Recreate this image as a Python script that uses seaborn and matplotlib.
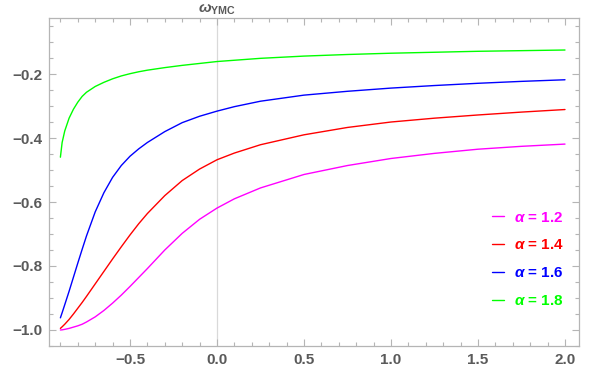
import numpy as np
import pandas as pd
import matplotlib
matplotlib.use("Agg")
import matplotlib.pyplot as plt
from matplotlib.ticker import MultipleLocator, FuncFormatter
from matplotlib.lines import Line2D
import seaborn as sns

# values
x_vals = [-0.9, -0.89, -0.875, -0.85, -0.825, -0.8, -0.775, -0.75, -0.7, -0.65,
          -0.6, -0.55, -0.5, -0.45, -0.4, -0.3, -0.2, -0.1, 0.0, 0.1,
          0.25, 0.5, 0.75, 1.0, 1.25, 1.5, 1.75, 2.0]

w_a12 = [-1.0, -0.9995, -0.998, -0.995, -0.991, -0.987, -0.982, -0.975, -0.959, -0.939,
         -0.916, -0.891, -0.864, -0.836, -0.808, -0.750, -0.698, -0.654, -0.619, -0.590,
         -0.556, -0.514, -0.486, -0.464, -0.448, -0.435, -0.426, -0.419]
w_a14 = [-0.995, -0.990, -0.982, -0.967, -0.950, -0.932, -0.914, -0.895, -0.856, -0.817,
         -0.778, -0.740, -0.703, -0.668, -0.636, -0.580, -0.533, -0.497, -0.468, -0.447,
         -0.421, -0.390, -0.367, -0.350, -0.338, -0.328, -0.319, -0.311]
w_a16 = [-0.962, -0.946, -0.921, -0.879, -0.835, -0.791, -0.748, -0.706, -0.631, -0.571,
         -0.523, -0.486, -0.457, -0.434, -0.414, -0.380, -0.352, -0.332, -0.316, -0.302,
         -0.285, -0.266, -0.254, -0.244, -0.236, -0.229, -0.223, -0.218]
w_a18 = [-0.460, -0.414, -0.378, -0.338, -0.310, -0.288, -0.270, -0.257, -0.239, -0.226,
         -0.215, -0.206, -0.199, -0.193, -0.188, -0.180, -0.173, -0.167, -0.161, -0.157,
         -0.151, -0.144, -0.139, -0.135, -0.132, -0.129, -0.127, -0.125]

labels = ["1.2", "1.4", "1.6", "1.8"]
colors = ["#FF00FF", "#FF0000", "#0000FF", "#00FF00"]

frames = []
for lab, vals in zip(labels, [w_a12, w_a14, w_a16, w_a18]):
    frames.append(pd.DataFrame({"x": x_vals, "w": vals, "alpha": lab}))
data = pd.concat(frames, ignore_index=True)

sns.set_style("ticks")
plt.rcParams["font.family"] = ["Liberation Sans", "DejaVu Sans"]
plt.rcParams["font.weight"] = "bold"
plt.rcParams["mathtext.fontset"] = "custom"
plt.rcParams["mathtext.it"] = "Liberation Sans:italic:bold"
plt.rcParams["mathtext.rm"] = "Liberation Sans:bold"
plt.rcParams["mathtext.bf"] = "Liberation Sans:bold"

fig = plt.figure(figsize=(5.91, 3.73), dpi=100)
ax = fig.add_axes([0.0829, 0.0724, 0.8968, 0.8793])

ax.axvline(0, color="#d9d9d9", lw=0.9, zorder=0)

sns.lineplot(data=data, x="x", y="w", hue="alpha", palette=dict(zip(labels, colors)),
             lw=1.0, legend=False, ax=ax, sort=False)

ax.set_xlim(-0.9655, 2.0805)
ax.set_ylim(-1.05, -0.025)
ax.set_xlabel("")
ax.set_ylabel("")

fmt = FuncFormatter(lambda v, p: f"{v:.1f}".replace("-", "\u2212"))
ax.xaxis.set_major_locator(MultipleLocator(0.5))
ax.xaxis.set_minor_locator(MultipleLocator(0.1))
ax.yaxis.set_major_locator(MultipleLocator(0.2))
ax.yaxis.set_minor_locator(MultipleLocator(0.05))
ax.xaxis.set_major_formatter(fmt)
ax.yaxis.set_major_formatter(fmt)

for side in ["left", "right", "top", "bottom"]:
    ax.spines[side].set_visible(True)
    ax.spines[side].set_color("#b5b5b5")
    ax.spines[side].set_linewidth(0.9)

ax.tick_params(which="both", direction="in", top=True, right=True, color="#b5b5b5", width=0.8)
ax.tick_params(which="major", length=5, labelsize=11, labelcolor="#5a5a5a", pad=5)
ax.tick_params(which="minor", length=2.8)

ax.text(0, 1.003, r"$\omega_{\mathrm{YMC}}$", transform=ax.get_xaxis_transform(),
        ha="center", va="bottom", fontsize=11, color="#5a5a5a")

handles = [Line2D([], [], color=c, lw=1.0) for c in colors]
leg = ax.legend(handles, [r"$\alpha$ = " + l for l in labels], loc="upper left",
                bbox_to_anchor=(0.81, 0.455), frameon=False, handlelength=0.75,
                handletextpad=0.7, labelspacing=0.91, labelcolor=colors,
                prop={"weight": "bold", "size": 11})

fig.savefig("out.png", dpi=100)
